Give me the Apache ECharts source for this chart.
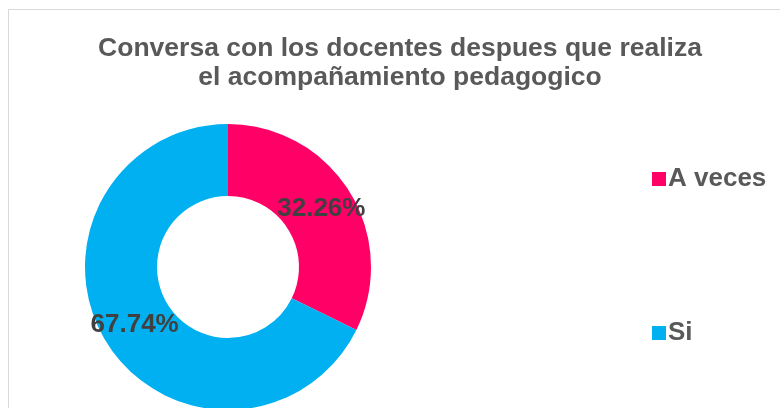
<!DOCTYPE html>
<html>
<head>
<meta charset="utf-8">
<script src="https://cdn.jsdelivr.net/npm/echarts@6/dist/echarts.min.js"></script>
<style>
  html, body { margin: 0; padding: 0; background: #fff; }
  #dataView { width: 780px; height: 408px; }
</style>
</head>
<body>
<div id="dataView"></div>
<script>
// datos del grafico
var categorias = ['A veces', 'Si'];
var valores = [32.26, 67.74];
var colores = ['#FF0066', '#00B0F0'];

var JsonSeries = [];
categorias.forEach(function (nombre, i) {
	JsonSeries.push({ name: nombre, value: valores[i], itemStyle: { color: colores[i] } });
});

var dataViewcharts = echarts.init(document.getElementById('dataView'));
var dataViewoption = {
	title: {
		text: 'Conversa con los docentes despues que realiza\nel acompañamiento pedagogico',
		left: 395,
		textAlign: 'center',
		top: 29,
		textStyle: {
			fontFamily: 'Liberation Sans, Arial',
			fontSize: 26.5,
			fontWeight: 'bold',
			color: '#595959',
			lineHeight: 29
		}
	},
	legend: {
		orient: 'vertical',
		left: 647,
		top: 161,
		itemWidth: 14,
		itemHeight: 14,
		itemGap: 128,
		icon: 'rect',
		textStyle: {
			fontFamily: 'Liberation Sans, Arial',
			fontSize: 26,
			fontWeight: 'bold',
			color: '#595959',
			padding: [0, 0, 0, -3]
		},
		data: categorias
	},
	graphic: [{
		type: 'rect',
		shape: { x: 8.5, y: 9.5, width: 800, height: 420 },
		style: { fill: 'none', stroke: '#D9D9D9', lineWidth: 1 },
		silent: true
	}],
	series: [{
		name: 'Conversa',
		type: 'pie',
		center: [228, 267],
		radius: [71, 143],
		startAngle: 90,
		clockwise: true,
		avoidLabelOverlap: false,
		label: {
			show: true,
			position: 'inside',
			formatter: function (p) { return p.value.toFixed(2) + '%'; },
			fontFamily: 'Liberation Sans, Arial',
			fontSize: 26,
			fontWeight: 'bold',
			color: '#404040'
		},
		labelLine: { show: false },
		emphasis: { disabled: true },
		data: JsonSeries
	}]
};
dataViewcharts.setOption(dataViewoption);
</script>
</body>
</html>
